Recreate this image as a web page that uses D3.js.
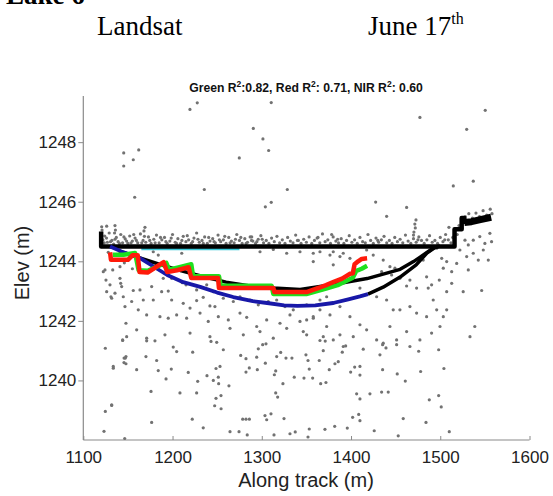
<!DOCTYPE html>
<html>
<head>
<meta charset="utf-8">
<script src="https://cdn.jsdelivr.net/npm/d3@7"></script>
<style>
  html, body { margin: 0; padding: 0; background: #fff; }
  svg { display: block; }
</style>
</head>
<body>
<svg id="chart" width="553" height="496"></svg>
<script>
// ---------------- DATA ----------------
const xTicks = [1100, 1200, 1300, 1400, 1500, 1600];
const yTicks = [1240, 1242, 1244, 1246, 1248];

// dense photon band just above the water surface
const surfaceBand = [
 [1122,1244.72],[1124,1244.85],[1127,1244.64],[1129,1244.95],[1132,1244.7],[1134,1244.58],[1137,1244.8],[1139,1244.66],
 [1142,1244.9],[1144,1244.62],[1147,1244.75],[1150,1244.6],[1152,1244.85],[1155,1244.68],[1158,1244.78],[1161,1244.62],
 [1164,1244.92],[1167,1244.7],[1170,1244.64],[1173,1244.82],[1176,1244.6],[1179,1244.74],[1182,1244.88],[1185,1244.62],
 [1188,1244.72],[1191,1244.8],[1194,1244.6],[1197,1244.68],[1200,1244.9],[1203,1244.64],[1206,1244.76],[1209,1244.6],
 [1212,1244.84],[1215,1244.66],[1218,1244.72],[1221,1244.6],[1224,1244.78],[1227,1244.95],[1230,1244.64],[1233,1244.7],
 [1236,1244.82],[1239,1244.6],[1242,1244.68],[1245,1244.76],[1248,1244.62],[1251,1244.88],[1254,1244.66],[1257,1244.72],
 [1260,1244.6],[1263,1244.8],[1266,1244.68],[1269,1244.62],[1272,1244.9],[1275,1244.7],[1278,1244.6],[1281,1244.76],
 [1284,1244.64],[1287,1244.82],[1290,1244.68],[1293,1244.6],[1296,1244.74],[1299,1244.86],[1302,1244.62],[1305,1244.7],
 [1308,1244.6],[1311,1244.78],[1314,1244.66],[1317,1244.84],[1320,1244.62],[1323,1244.72],[1326,1244.6],[1329,1244.8],
 [1332,1244.68],[1335,1244.62],[1338,1244.88],[1341,1244.7],[1344,1244.6],[1347,1244.74],[1350,1244.64],[1353,1244.82],
 [1356,1244.6],[1359,1244.7],[1362,1244.78],[1365,1244.62],[1368,1244.92],[1371,1244.66],[1374,1244.72],[1377,1244.6],
 [1380,1244.82],[1383,1244.68],[1386,1244.62],[1389,1244.76],[1392,1244.6],[1395,1244.7],[1398,1244.86],[1401,1244.64],
 [1404,1244.72],[1407,1244.6],[1410,1244.8],[1413,1244.66],[1416,1244.62],[1419,1244.9],[1422,1244.7],[1425,1244.6],
 [1428,1244.78],[1431,1244.64],[1434,1244.72],[1437,1244.84],[1440,1244.62],[1443,1244.7],[1446,1244.6],[1449,1244.8],
 [1452,1244.66],[1455,1244.74],[1458,1244.62],[1461,1244.88],[1464,1244.68],[1467,1244.6],[1470,1244.76],[1473,1244.64],
 [1476,1244.82],[1479,1244.7],[1482,1244.6],[1485,1244.72],[1488,1244.86],[1491,1244.64],[1494,1244.7],[1497,1244.6],
 [1500,1244.8],[1503,1244.66],[1506,1244.9],[1509,1244.72],[1512,1244.62],[1514,1244.8],
 [1519,1244.9],[1521,1245.2],[1528,1245.5],[1532,1245.6],[1536,1245.45],[1540,1245.62],[1544,1245.5],[1548,1245.7],
 [1552,1245.55],[1556,1245.75],[1558,1245.6],[1530,1245.3],[1538,1245.35],[1546,1245.4],[1554,1245.45]
];
const surfaceBandExtra = [
 [1123.5,1244.62],[1126,1244.78],[1130.5,1244.66],[1135.5,1244.74],[1140.5,1244.6],[1145.5,1244.82],[1148.5,1244.68],
 [1153.5,1244.62],[1156.5,1244.9],[1159.5,1244.7],[1165.5,1244.62],[1168.5,1244.84],[1174.5,1244.7],[1180.5,1244.62],
 [1186.5,1244.8],[1192.5,1244.66],[1198.5,1244.78],[1204.5,1244.6],[1210.5,1244.7],[1216.5,1244.86],[1222.5,1244.66],
 [1228.5,1244.74],[1234.5,1244.6],[1240.5,1244.8],[1246.5,1244.66],[1252.5,1244.72],[1258.5,1244.84],[1264.5,1244.62],
 [1270.5,1244.74],[1276.5,1244.8],[1282.5,1244.6],[1288.5,1244.7],[1294.5,1244.66],[1300.5,1244.74],[1340,1244.7],
 [1385,1244.74],[1430,1244.7],[1475,1244.72],[1505,1244.72]
];

// scattered photons above the surface
const scatterUpper = [
 [1219.5,1249.1],[1227.7,1249.32],[1310.6,1249.33],[1477.2,1248.83],[1550.4,1249.07],[1529.6,1248.43],
 [1290.5,1248.46],[1301.3,1248.11],[1307.7,1247.72],[1274.8,1247.47],[1145.3,1247.64],[1162.1,1247.74],
 [1156,1247.41],[1145.3,1247.2],[1235.6,1246.41],[1328.6,1246.41],[1157.6,1246.15],[1304,1245.83],
 [1310.6,1245.98],[1514.6,1246.53],[1537,1246.69],[1427.6,1245.99],[1462.3,1245.81],[1439.9,1245.51],
 [1472.8,1245.39],[1471.5,1245.25],[1472,1245.12],[1470.5,1244.98],[1470,1244.88],
 [1120.6,1245.16],[1121,1245.05],[1135.5,1245.2],[1136,1245.05],[1135,1244.95],[1126.2,1245.18],
 [1169.1,1245.14],[1168,1245.02],[1378.3,1244.9],[1363,1244.8],[1288.7,1244.82],[1509.7,1245.14]
];

// scattered photons between surface and ~1241 m
const scatterMiddle = [
 [1128,1244.3],[1138,1244.05],[1150,1244.25],[1146,1243.95],[1155,1243.75],
 [1133,1243.71],[1125.4,1243.37],[1122.4,1243.65],[1129.9,1243.21],[1126.2,1242.98],[1131,1242.81],
 [1135.5,1242.93],[1141.9,1243.26],[1146.7,1242.48],[1147.8,1241.92],[1144.1,1241.36],[1124.7,1241.08],
 [1124.3,1243.71],[1131.8,1242.76],[1141.1,1243.43],[1143,1243.15],[1144.8,1242.81],[1156,1243.02],
 [1163.5,1243.04],[1167.2,1242.7],[1154.2,1242.65],[1161.6,1242.37],[1171,1242.2],[1141.1,1243.82],
 [1178.4,1244.32],[1184,1244.21],[1210.3,1244.27],[1298,1244.32],[1312.9,1244.4],[1327.9,1244.27],
 [1342.8,1244.32],[1357.7,1244.27],[1380.1,1244.32],[1387.6,1244.16],[1182.2,1243.82],[1189.6,1243.43],
 [1199,1243.43],[1210.9,1243.28],[1176.6,1243.15],[1187.8,1242.98],[1195.2,1243.0],[1215.1,1243.21],
 [1227,1243.04],[1238.3,1243.21],[1245.7,1242.98],[1259.9,1243.1],[1178.4,1242.7],[1199,1242.7],
 [1212,1242.59],[1227,1242.68],[1234.4,1242.79],[1241.9,1242.5],[1256.9,1242.76],[1268.1,1242.65],
 [1275.6,1242.81],[1286.8,1242.7],[1296.1,1242.54],[1307.3,1242.65],[1316.7,1242.7],[1326,1242.48],
 [1335.3,1242.37],[1350.3,1242.54],[1365.2,1242.7],[1372.7,1242.81],[1380.1,1242.59],[1185.9,1242.14],
 [1195.2,1242.09],[1204.6,1242.2],[1215.8,1242.09],[1230.8,1242.26],[1240,1241.98],[1251.3,1242.14],
 [1262.5,1242.03],[1275.6,1242.26],[1283.1,1242.12],[1294.3,1241.81],[1305.5,1242.03],[1320.4,1241.92],
 [1331.6,1242.2],[1342.8,1241.98],[1357.7,1242.09],[1219.6,1242.43],[1247.5,1242.48],[1148.6,1241.47],
 [1159.8,1241.7],[1171,1241.42],[1191.5,1241.53],[1219.6,1241.59],[1241.9,1241.47],[1264.4,1241.75],
 [1279.3,1241.53],[1298,1241.64],[1312.9,1241.42],[1327.9,1241.75],[1350.3,1241.53],[1372.7,1241.81],
 [1387.6,1241.53],
 [1365.2,1244.32],[1376.4,1244.21],[1391.3,1244.27],[1398.8,1244.1],[1417.5,1244.38],[1424.9,1244.21],
 [1436.1,1244.04],[1380.1,1243.88],[1357.7,1243.99],
 [1410,1243.1],[1434.3,1243.65],[1443.6,1243.82],[1449.2,1243.77],[1445.5,1243.54],[1454.8,1243.43],
 [1462.3,1243.17],[1466,1243.37],[1473.5,1243.1],[1428.7,1242.81],[1439.9,1242.7],[1447.3,1242.37],
 [1454.8,1242.37],[1466,1242.48],[1473.5,1242.26],[1484.7,1242.14],[1496,1242.37],[1503.4,1242.14],
 [1499.7,1241.81],[1490.3,1241.59],[1462.3,1241.64],[1443.6,1241.81],[1451.1,1241.36],[1436.1,1241.25],
 [1417.5,1241.7],[1410,1241.87],[1398.8,1242.14],[1387.6,1242.48],[1376.4,1242.2],[1365.2,1242.37],
 [1357.7,1242.14],[1350.3,1242.03],[1346.5,1241.64],[1368.9,1241.47],[1380.1,1241.36],[1391.3,1241.14],
 [1402.5,1241.47],[1428.7,1241.36],[1466,1241.14],[1477.2,1241.36],[1507.2,1242.37],
 [1496,1244.44],[1501.6,1244.1],[1507.2,1243.99],[1503.4,1243.77],[1512.8,1243.65],[1518.4,1243.93],
 [1512.8,1243.26],[1507.2,1242.98],[1498.9,1243.37],[1490.3,1243.21],[1484.7,1243.48],[1480.9,1244.04],
 [1486.5,1243.1],[1492.1,1242.7],
 [1527.7,1244.71],[1531.4,1244.55],[1537,1244.71],[1544.3,1244.83],[1550,1244.6],[1555.6,1244.94],
 [1557.5,1244.66],[1522,1244.38],[1529.6,1244.16],[1537,1244.27],[1542.6,1244.04],[1548.2,1244.38],
 [1531.4,1243.71],[1525.7,1242.98],[1546.4,1243.02],[1553.8,1244.04],[1538.7,1241.81],[1533.3,1241.47]
];

// scattered photons below ~1241.4 m
const scatterLower = [
 [1144.1,1241.34],[1171,1241.33],[1180.3,1241.33],[1243.1,1241.31],[1249.5,1241.28],[1200.8,1241.12],
 [1204.6,1240.97],[1222.6,1240.95],[1256.9,1241.03],[1276.4,1240.84],[1282.3,1240.73],[1294.3,1240.78],
 [1296.1,1241.06],[1301,1241.2],[1304.7,1241.23],[1316.7,1240.8],[1321.2,1240.94],[1327.1,1240.75],
 [1333.8,1240.75],[1349.5,1240.86],[1351.8,1240.67],[1364.4,1240.67],[1368.9,1241.0],[1365.2,1241.34],
 [1371.1,1241.32],[1390.2,1240.95],[1394,1241.16],[1413.7,1241.05],[1435.4,1241.2],[1439.2,1241.09],
 [1432.4,1240.86],[1451.1,1241.2],[1475.8,1240.98],[1498.2,1241.03],[1147.1,1240.75],[1145.7,1240.75],
 [1147.8,1240.56],[1133.6,1240.41],[1159.8,1240.36],[1170.2,1240.8],[1182.2,1240.67],[1184,1240.33],
 [1198.6,1240.38],[1192.7,1240.05],[1217.6,1240.27],[1238.6,1240.16],[1248.7,1240.4],[1253.2,1240.47],
 [1251.3,1240.11],[1245.7,1240.0],[1228.2,1239.97],[1251.7,1239.89],[1263.2,1239.82],[1282.3,1240.28],
 [1286,1240.42],[1295,1240.36],[1304,1240.58],[1314.1,1240.19],[1315.6,1240.32],[1323.7,1239.89],
 [1336.4,1240.11],[1347.3,1240.08],[1353.2,1240.38],[1357,1240.08],[1366,1239.89],[1371.9,1239.93],
 [1375.6,1240.36],[1382,1240.56],[1385.7,1240.63],[1399.6,1240.28],[1404.1,1240.45],[1410,1240.47],
 [1410,1240.18],[1435.4,1240.36],[1451.8,1240.22],[1460.8,1239.98],[1478,1240.3],[1504.1,1240.4],
 [1175.9,1239.63],[1208.3,1239.58],[1227,1239.58],[1248.7,1239.4],[1254.3,1239.49],[1247.2,1239.15],
 [1254.4,1239.05],[1315.6,1239.58],[1317.8,1239.44],[1406.3,1239.55],[1410,1239.38],[1421.2,1239.55],
 [1434.3,1239.61],[1441.7,1239.61],[1487.7,1239.35],[1498.2,1239.49],[1501.1,1239.11],[1484,1238.59],
 [1458.5,1238.72],[1452.9,1238.14],[1510.1,1238.28],[1131.8,1239.16],[1176.6,1238.59],[1222.1,1238.7],
 [1234.4,1238.41],[1264.4,1238.28],[1274.5,1238.28],[1278.6,1238.7],[1282.3,1238.7],[1286.1,1238.7],
 [1283.7,1238.17],[1303.6,1238.82],[1305.5,1238.68],[1310.3,1238.88],[1313.7,1238.17],[1324.9,1238.72],
 [1331.6,1238.21],[1337.5,1238.27],[1351.8,1238.1],[1353.2,1238.37],[1370.8,1238.36],[1381.7,1238.46],
 [1395.8,1238.4],[1401.8,1238.76],[1408.6,1238.86],[1410,1238.65],[1426,1238.31],[1146.4,1238.05],
 [1147.8,1240.8],[1145.6,1240.6],[1133.6,1240.47],[1124.7,1238.96],[1131.8,1239.18],[1123.2,1238.29]
];

// fitted / derived profiles
const surfaceLine = [[1120,1245.0],[1120,1244.5],[1516,1244.5],[1516,1245.08],[1524,1245.08],[1524,1245.45],
 [1527,1245.45],[1527,1245.25]];
const surfaceCluster = [[1527,1245.3],[1535,1245.33],[1545,1245.4],[1557,1245.48]];
const cyanLine = [[1165,1244.41],[1275,1244.41]];
const blackUpperProfile = [[1140,1244.35],[1160,1244.15],[1185,1243.9],[1210,1243.68],[1235,1243.48],[1260,1243.3],
 [1285,1243.18],[1313,1243.1],[1343,1243.05],[1380,1243.22],[1418,1243.42],[1455,1243.73],[1470,1243.99],
 [1481,1244.21],[1492,1244.44],[1500,1244.52]];
const blackLowerProfile = [[1419,1242.9],[1436,1243.13],[1455,1243.47],[1473,1243.88],[1485,1244.28],[1496,1244.5]];
const nirProfile = [[1130,1244.5],[1145,1244.3],[1164,1244.1],[1180,1243.8],[1194,1243.54],[1212,1243.3],[1231,1243.14],
 [1250,1242.95],[1268,1242.8],[1290,1242.66],[1306,1242.6],[1325,1242.52],[1340,1242.5],[1360,1242.52],[1380,1242.6],
 [1397,1242.72],[1410,1242.82],[1419,1242.9]];
const greenProfile = [[1133,1244.22],[1145,1244.22],[1158,1244.28],[1162,1243.7],[1172,1243.68],[1185,1243.85],
 [1193,1243.95],[1196,1243.72],[1210,1243.82],[1221,1243.9],[1223,1243.5],[1252,1243.5],[1254,1243.18],[1311,1243.18],
 [1313,1242.9],[1350,1242.9],[1360,1242.98],[1372,1243.08],[1385,1243.2],[1395,1243.35],[1402,1243.45],[1406,1243.68],
 [1412,1243.75],[1418,1243.85]];
const redProfile = [[1130,1244.3],[1131,1244.05],[1150,1244.05],[1155,1244.2],[1161,1244.2],[1163,1243.64],[1172,1243.62],
 [1181,1243.8],[1190,1243.97],[1194,1243.64],[1205,1243.7],[1218,1243.8],[1221,1243.44],[1251,1243.44],[1252,1243.1],
 [1313,1243.1],[1314,1242.97],[1351,1242.97],[1358,1243.05],[1365,1243.12],[1372,1243.2],[1380,1243.3],[1390,1243.42],
 [1399,1243.58],[1402,1243.6],[1404,1243.9],[1408,1244.0],[1412,1244.08],[1418,1244.1]];

// ---------------- DRAW ----------------
const svg = d3.select("#chart");
const xScale = d3.scaleLinear().domain([1100, 1600]).range([83.3, 529.5]);
const yScale = d3.scaleLinear().domain([1238, 1249.55]).range([440, 96]);

const sans = "'Liberation Sans', Arial, Helvetica, sans-serif";
const serif = "'Liberation Serif', 'Times New Roman', serif";

// header texts
svg.append("text").attr("x", 6).attr("y", 4).attr("font-family", serif).attr("font-weight", "bold")
  .attr("font-size", 27).attr("fill", "#000").text("Lake 6");
svg.append("text").attr("x", 97).attr("y", 35).attr("font-family", serif)
  .attr("font-size", 27).attr("fill", "#000").text("Landsat");
const june = svg.append("text").attr("x", 368).attr("y", 35).attr("font-family", serif)
  .attr("font-size", 27).attr("fill", "#000");
june.append("tspan").text("June 17");
june.append("tspan").attr("font-size", 16).attr("dy", -11).text("th");

// title
const title = svg.append("text").attr("x", 306).attr("y", 91.5).attr("text-anchor", "middle")
  .attr("font-family", sans).attr("font-weight", "bold").attr("font-size", 12.2).attr("fill", "#111");
const titleParts = [["Green R", "2", ":0.82, Red R"], ["", "2", ": 0.71, NIR R"], ["", "2", ": 0.60"]];
titleParts.forEach(p => {
  if (p[0]) title.append("tspan").attr("dy", 0).text(p[0]);
  title.append("tspan").attr("font-size", 8.5).attr("dy", -4.5).text(p[1]);
  title.append("tspan").attr("dy", 4.5).text(p[2]);
});

// axes
const gx = svg.append("g").attr("transform", "translate(0,440)")
  .call(d3.axisBottom(xScale).tickValues(xTicks).tickSize(-4).tickPadding(11).tickFormat(d3.format("d")));
const gy = svg.append("g").attr("transform", "translate(83.3,0)")
  .call(d3.axisLeft(yScale).tickValues(yTicks).tickSize(5).tickPadding(2).tickFormat(d3.format("d")));
[gx, gy].forEach(g => {
  g.select(".domain").attr("stroke", "#8a8a8a").attr("stroke-width", 1.2);
  g.selectAll(".tick line").attr("stroke", "#8a8a8a");
  g.selectAll(".tick text").attr("font-family", sans).attr("font-size", 17).attr("fill", "#222");
});
gy.select(".domain").attr("d", `M0,96V440`);
gx.select(".domain").attr("d", `M${xScale(1100)},0H${xScale(1600)}`);

svg.append("text").attr("x", 306).attr("y", 487).attr("text-anchor", "middle")
  .attr("font-family", sans).attr("font-size", 20).attr("fill", "#222").text("Along track (m)");
svg.append("text").attr("transform", "translate(29,263) rotate(-90)").attr("text-anchor", "middle")
  .attr("font-family", sans).attr("font-size", 20).attr("fill", "#222").text("Elev (m)");

// scatter
const allPts = surfaceBand.concat(surfaceBandExtra, scatterUpper, scatterMiddle, scatterLower);
svg.append("g").selectAll("circle").data(allPts).join("circle")
  .attr("cx", d => xScale(d[0])).attr("cy", d => yScale(d[1])).attr("r", 1.6).attr("fill", "#727272");

const line = d3.line().x(d => xScale(d[0])).y(d => yScale(d[1]));
function drawLine(data, color, w) {
  svg.append("path").datum(data).attr("d", line).attr("fill", "none").attr("stroke", color)
    .attr("stroke-width", w).attr("stroke-linejoin", "round").attr("stroke-linecap", "butt");
}
drawLine(cyanLine, "#3cc8d8", 2.2);
drawLine(surfaceLine, "#000", 4.5);
drawLine(surfaceCluster, "#000", 7);
drawLine(blackUpperProfile, "#000", 3.5);
drawLine(blackLowerProfile, "#000", 3.5);
drawLine(nirProfile, "#1818a8", 3.8);
drawLine(greenProfile, "#1ee01e", 4.5);
drawLine(redProfile, "#ff1a0a", 4.5);
</script>
</body>
</html>
